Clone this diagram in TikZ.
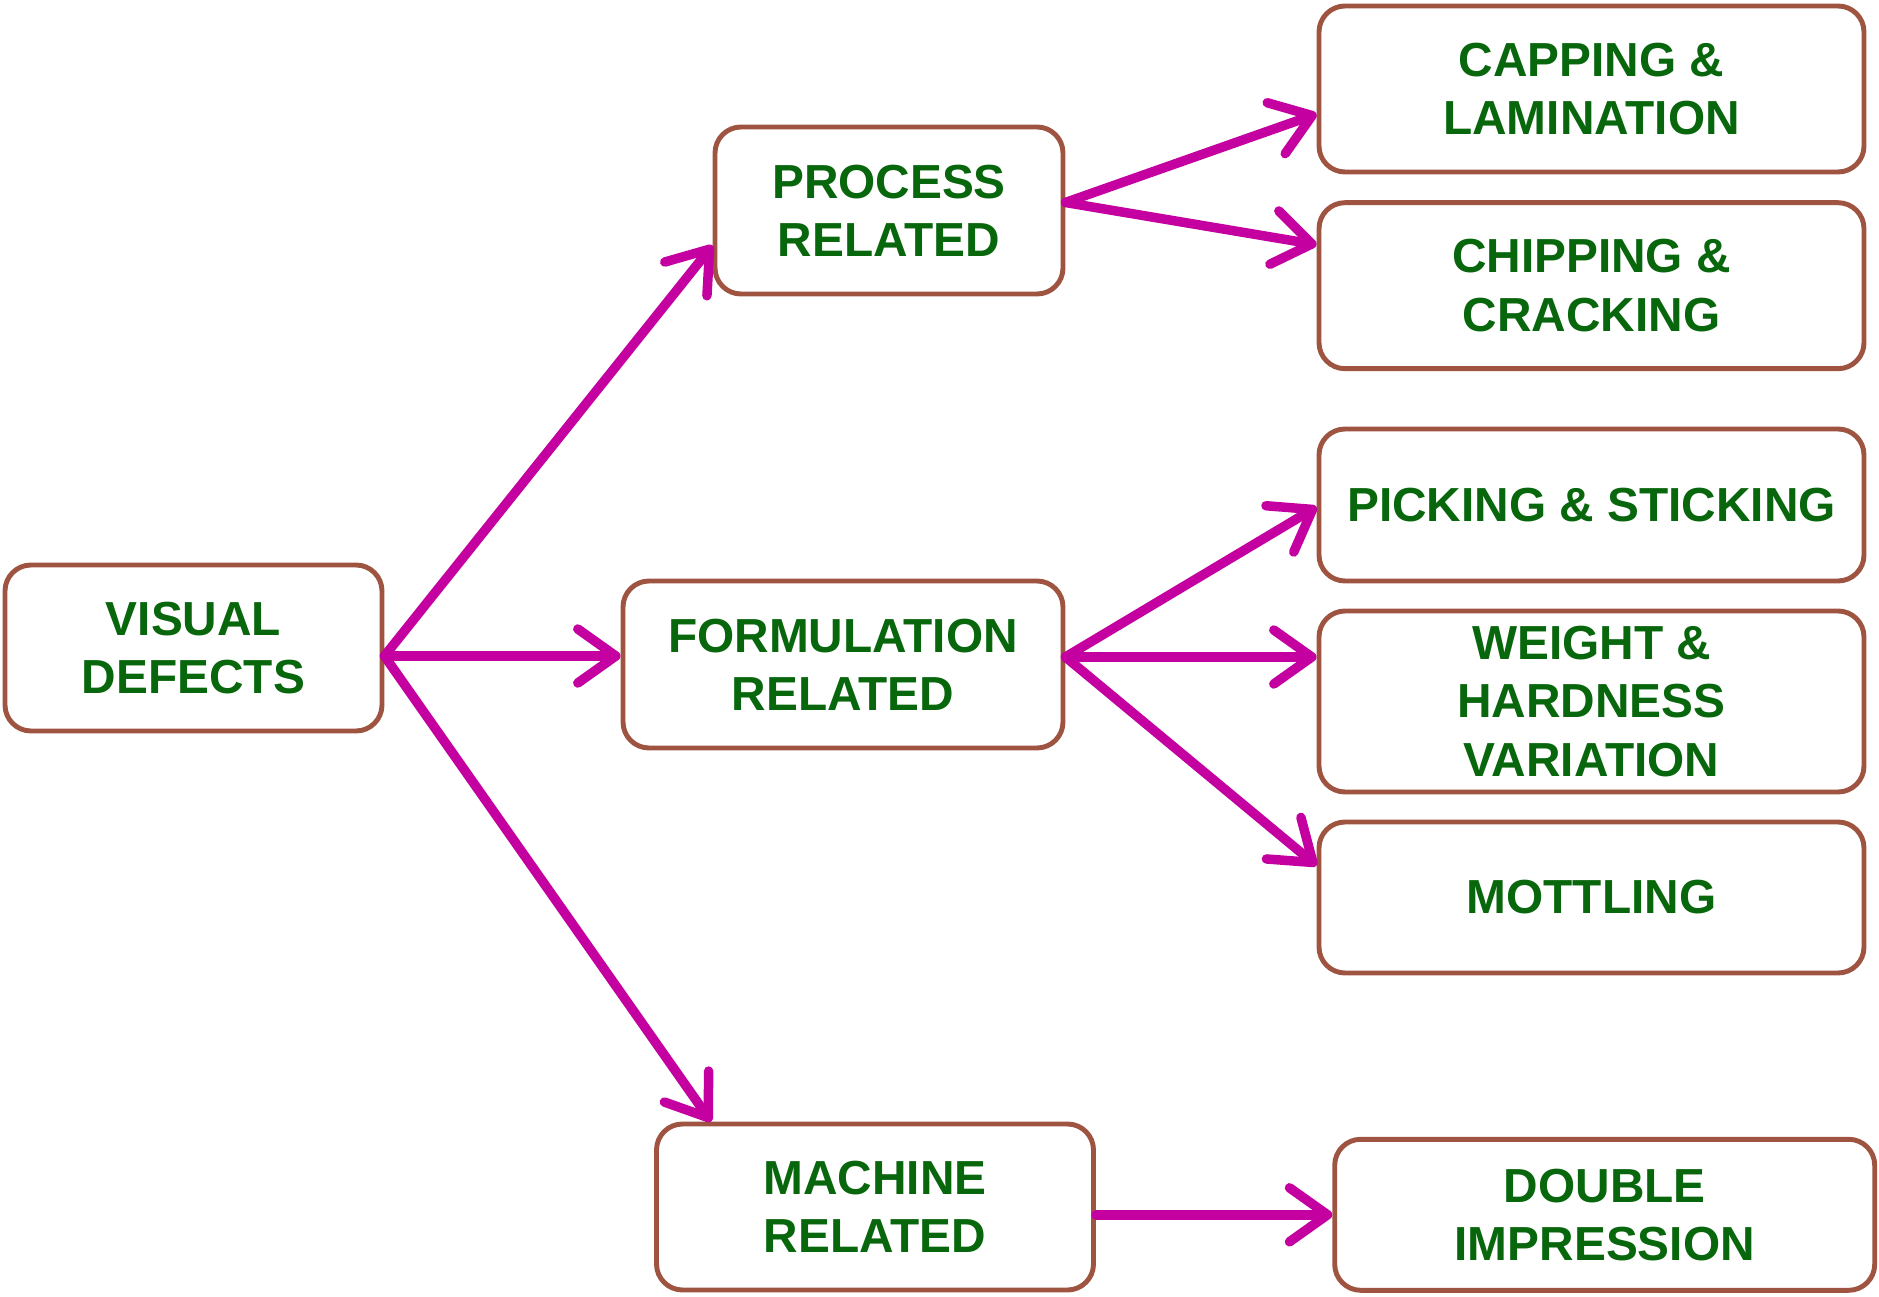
\documentclass[tikz,border=0pt]{standalone}
\usepackage{fontspec}
\setmainfont{Liberation Sans}
\usetikzlibrary{arrows.meta, positioning}
\definecolor{boxbrown}{RGB}{158,84,64}
\definecolor{txtgreen}{RGB}{8,102,12}
\definecolor{arrmag}{RGB}{196,0,160}

\begin{document}
\begin{tikzpicture}[
  every node/.style={font=\fontsize{13.6}{16.6}\selectfont\bfseries, text=txtgreen, align=center},
  box/.style={draw=boxbrown, line width=1.4pt, rounded corners=0.26cm, fill=white},
  arr/.style={draw=arrmag, line width=2.7pt, line cap=round,
    -{Straight Barb[length=3.8mm,width=5.4mm,round]}}]
\useasboundingbox (0,0) rectangle (18.79,-12.97);
\def\xr{15.915}\def\wr{5.45}
% root and the three groups
\node[box, minimum width=3.77cm, minimum height=1.66cm] (vis) at (1.935,-6.48) {VISUAL\\DEFECTS};
\node[box, minimum width=3.48cm, minimum height=1.67cm] (proc) at (8.89,-2.105) {PROCESS\\RELATED};
\node[box, minimum width=4.40cm, minimum height=1.67cm] (form) at (8.43,-6.645) {FORMULATION\\RELATED};
\node[box, minimum width=4.37cm, minimum height=1.66cm] (mach) at (8.75,-12.07) {MACHINE\\RELATED};
% defect types, right column
\node[box, minimum width=\wr cm, minimum height=1.66cm] (cap) at (\xr,-0.89) {CAPPING \&\\LAMINATION};
\node[box, minimum width=\wr cm, minimum height=1.66cm] (chip) at (\xr,-2.857) {CHIPPING \&\\CRACKING};
\node[box, minimum width=\wr cm, minimum height=1.52cm] (pick) at (\xr,-5.05) {PICKING \& STICKING};
\node[box, minimum width=\wr cm, minimum height=1.81cm] (wgt) at (\xr,-7.015) {WEIGHT \&\\HARDNESS\\VARIATION};
\node[box, minimum width=\wr cm, minimum height=1.51cm] (mott) at (\xr,-8.975) {MOTTLING};
\node[box, minimum width=5.40cm, minimum height=1.51cm] (dbl) at (16.047,-12.148) {DOUBLE\\IMPRESSION};
% root -> groups
\coordinate (vo) at ([yshift=-0.08cm]vis.east);
\draw[arr] (vo) -- ([yshift=-0.35cm]proc.west);
\draw[arr] (vo) -- (vo -| form.west);
\draw[arr] (vo) -- ([xshift=0.57cm]mach.north west);
% groups -> defect types
\foreach \dst/\dy in {cap/-0.25, chip/0.41}
  \draw[arr] ([yshift=0.08cm]proc.east) -- ([yshift=\dy cm]\dst.west);
\coordinate (fo) at ([yshift=0.075cm]form.east);
\draw[arr] (fo) -- ([yshift=-0.02cm]pick.west);
\draw[arr] (fo) -- (fo -| wgt.west);
\draw[arr] (fo) -- ([yshift=0.32cm]mott.west);
\draw[arr] (dbl.west -| mach.east) -- (dbl.west);
\end{tikzpicture}
\end{document}
